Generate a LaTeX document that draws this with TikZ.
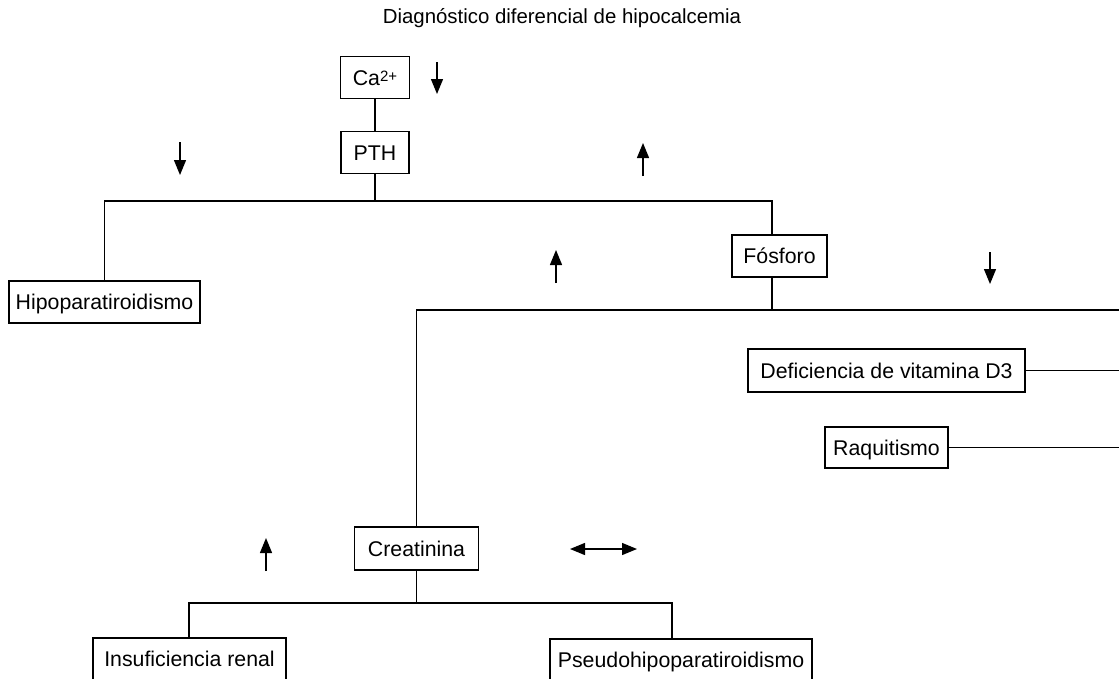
\documentclass[tikz,border=0pt]{standalone}
\usepackage{fontspec}
\setmainfont{Liberation Sans}
\usetikzlibrary{arrows.meta}
\begin{document}
\begin{tikzpicture}[x=1pt,y=-1pt,
  box/.style={draw, line width=1.2pt, inner sep=0pt, minimum height=42pt,
    font=\fontsize{21.3}{25}\selectfont, text height=15pt, text depth=0pt},
  conn/.style={line width=1.2pt},
  sig/.style={line width=1.3pt, -{Triangle[length=15pt,width=12pt]}},
  dsig/.style={line width=1.3pt, {Triangle[length=15pt,width=12pt]}-{Triangle[length=15pt,width=12pt]}}]
\useasboundingbox (0,0) rectangle (1119,678);

\node[font=\fontsize{20.4}{24}\selectfont] (title) at (562,18) {Diagnóstico diferencial de hipocalcemia};

\node[box, minimum width=69pt] (ca) at (375,77.5) {Ca{\fontsize{15}{18}\selectfont\raisebox{4pt}{2+}}};
\node[box, minimum width=68pt] (pth) at (375,152.5) {PTH};
\node[box, minimum width=191pt] (hipo) at (104.5,302) {Hipoparatiroidismo};
\node[box, minimum width=95pt] (fos) at (779.5,256) {Fósforo};
\node[box, minimum width=277pt, minimum height=43pt] (defic) at (886.5,370.5) {Deficiencia de vitamina D3};
\node[box, minimum width=123pt, minimum height=41pt] (raq) at (886.5,447.5) {Raquitismo};
\node[box, minimum width=124pt, minimum height=43pt] (crea) at (416.5,548.5) {Creatinina};
\node[box, minimum width=193pt] (ins) at (189.5,659) {Insuficiencia renal};
\node[box, minimum width=262pt] (pseudo) at (681,660) {Pseudohipoparatiroidismo};

% connectors
\coordinate (jL) at (105,201);
\coordinate (jR) at (772,201);
\draw[conn] (ca.south) -- (pth.north);
\draw[conn] (pth.south) -- (pth.south |- jL);
\draw[conn] (hipo.north) -- (hipo.north |- jL) -- (jR) -- (jR |- fos.north);

\coordinate (kT) at (772,310);
\coordinate (kL) at (416.5,310);
\coordinate (kR) at (1119,310);
\draw[conn] (kT |- fos.south) -- (kT);
\draw[conn] (kR) -- (kL) -- (crea.north);
\draw[conn] (defic.east) -- (defic.east -| kR);
\draw[conn] (raq.east) -- (raq.east -| kR);

\coordinate (mL) at (189,603);
\coordinate (mR) at (672,603);
\draw[conn] (crea.south) -- (crea.south |- mL);
\draw[conn] (ins.north -| mL) -- (mL) -- (mR) -- (mR |- pseudo.north);

% direction signs
\coordinate (a1s) at (437,62); \coordinate (a1e) at (437,94);
\draw[sig] (a1s) -- (a1e);
\coordinate (a2s) at (180,142); \coordinate (a2e) at (180,175);
\draw[sig] (a2s) -- (a2e);
\coordinate (a3s) at (643,176); \coordinate (a3e) at (643,143);
\draw[sig] (a3s) -- (a3e);
\coordinate (a4s) at (556,283); \coordinate (a4e) at (556,250);
\draw[sig] (a4s) -- (a4e);
\coordinate (a5s) at (990,252); \coordinate (a5e) at (990,284);
\draw[sig] (a5s) -- (a5e);
\coordinate (a6s) at (266,571); \coordinate (a6e) at (266,538);
\draw[sig] (a6s) -- (a6e);
\coordinate (a7s) at (570,549); \coordinate (a7e) at (637,549);
\draw[dsig] (a7s) -- (a7e);
\end{tikzpicture}
\end{document}
